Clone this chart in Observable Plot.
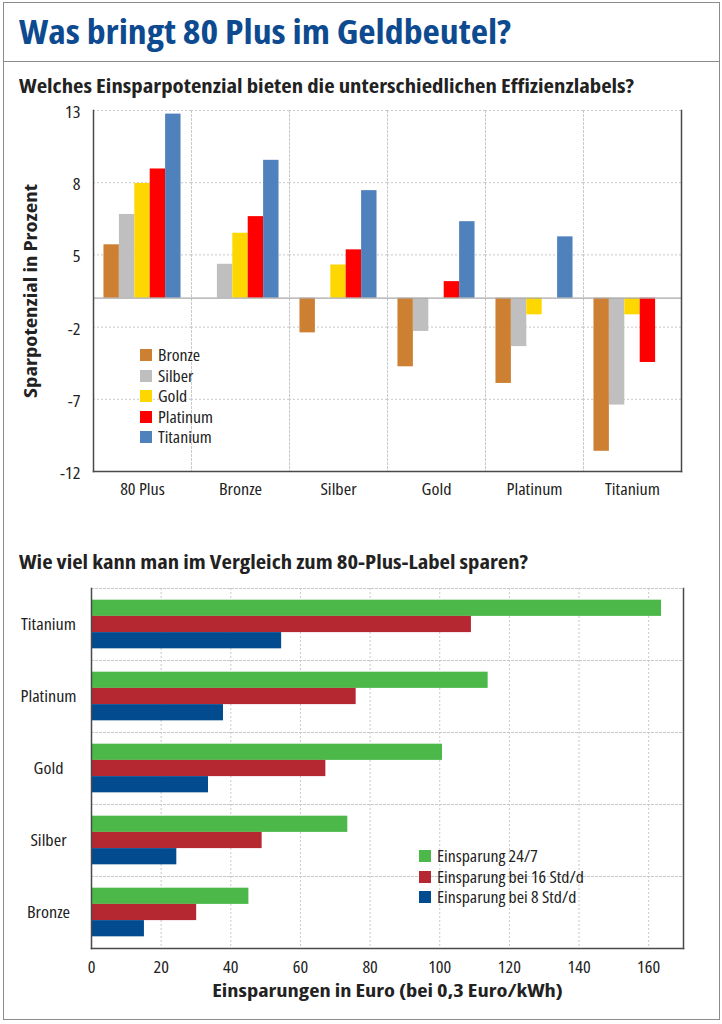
<!DOCTYPE html>
<html>
<head>
<meta charset="utf-8">
<script src="https://cdn.jsdelivr.net/npm/d3@7"></script>
<script src="https://cdn.jsdelivr.net/npm/@observablehq/plot@0.6"></script>
<style>
  body { margin: 0; background: #fff; }
  #page { position: relative; width: 722px; height: 1024px; overflow: hidden;
    font-family: "Open Sans", "Noto Sans", sans-serif; font-stretch: condensed; color: #222; }
  .frame { position: absolute; left: 3px; top: 2px; width: 715px; height: 1016px; border: 1.5px solid #8c8c8c; }
  .sep { position: absolute; left: 3px; top: 61px; width: 717px; height: 0; border-top: 1.5px solid #8c8c8c; }
  .title { position: absolute; left: 19px; top: 14.7px; font-size: 33px; line-height: 1; font-weight: bold; color: #0d4a8f; white-space: nowrap; }
  .sub { position: absolute; left: 19px; font-size: 19.5px; line-height: 1; font-weight: bold; color: #222; white-space: nowrap; }
  .chart { position: absolute; left: 0; }
  .legend { position: absolute; font-size: 16px; color: #222; }
  .legend .row { display: flex; align-items: center; height: 20.5px; white-space: nowrap; }
  .legend .sw { width: 12px; height: 12px; margin-right: 6px; flex: none; }
  .legend span { display: inline-block; }
</style>
</head>
<body>
<div id="page">
  <div class="frame"></div>
  <div class="title" id="title">Was bringt 80 Plus im Geldbeutel?</div>
  <div class="sep"></div>
  <div class="sub" id="sub1" style="top:75.7px">Welches Einsparpotenzial bieten die unterschiedlichen Effizienzlabels?</div>
  <div class="chart" id="chart1" style="top:100px"></div>
  <div class="legend" id="leg1" style="left:140px; top:345px"></div>
  <div class="sub" id="sub2" style="top:551.7px">Wie viel kann man im Vergleich zum 80-Plus-Label sparen?</div>
  <div class="chart" id="chart2" style="top:577px"></div>
  <div class="legend" id="leg2" style="left:419px; top:846px"></div>
</div>
<script>
// ---------- Chart 1 data ----------
const groups = ["80 Plus", "Bronze", "Silber", "Gold", "Platinum", "Titanium"];
const labels = ["Bronze", "Silber", "Gold", "Platinum", "Titanium"];
const labelColors = ["#cd7f32", "#bfbfbf", "#ffd700", "#ff0000", "#4f81bd"];
const sBronze   = [3.7,  null, -2.4, -4.75, -5.9, -10.6];
const sSilber   = [5.8,  2.35, null, -2.3, -3.35, -7.4];
const sGold     = [7.95, 4.5,  2.3,  null, -1.15, -1.15];
const sPlatinum = [8.95, 5.65, 3.35, 1.15, null, -4.45];
const sTitanium = [12.75, 9.55, 7.45, 5.3, 4.25, null];
const yTicks = [13, 8, 3, -2, -7, -12];
const yTickLabels = ["13", "8", "5", "-2", "-7", "-12"];
const yTitle = "Sparpotenzial in Prozent";

// ---------- Chart 2 data ----------
const tiers = ["Titanium", "Platinum", "Gold", "Silber", "Bronze"];
const seriesNames = ["Einsparung 24/7", "Einsparung bei 16 Std/d", "Einsparung bei 8 Std/d"];
const seriesColors = ["#4cb84a", "#b52832", "#024b8e"];
const e247 = [163.7, 113.9, 100.8, 73.6, 45.2];
const e16  = [109.1, 76.0, 67.3, 49.0, 30.2];
const e8   = [54.6, 37.9, 33.6, 24.5, 15.2];
const xTicks = [0, 20, 40, 60, 80, 100, 120, 140, 160];
const xTitle = "Einsparungen in Euro (bei 0,3 Euro/kWh)";

const FONT = '"Open Sans", "Noto Sans", sans-serif';
const GRID = "#c8c8c8";
const AXIS = "#4a4a4a";
const STYLE = {fontFamily: FONT, fontStretch: "condensed", fontSize: "17px", color: "#222", background: "transparent"};

// ---------- Chart 1 ----------
const series1 = [sBronze, sSilber, sGold, sPlatinum, sTitanium];
const rows1 = [];
groups.forEach((g, i) => labels.forEach((l, j) => {
  const v = series1[j][i];
  if (v != null) rows1.push({group: g, label: l, value: v});
}));

const chart1 = Plot.plot({
  width: 722, height: 411,
  marginTop: 10, marginBottom: 40, marginLeft: 91, marginRight: 39,
  style: STYLE,
  fx: {domain: groups, padding: 0, label: null},
  x: {domain: labels, paddingInner: 0, paddingOuter: 0.68, round: false, axis: null},
  y: {domain: [-12, 13], label: null},
  color: {domain: labels, range: labelColors},
  marks: [
    Plot.gridY(yTicks.filter(t => t !== -12), {stroke: GRID, strokeOpacity: 1, strokeDasharray: "2,2"}),
    Plot.frame({anchor: "left", stroke: GRID, strokeOpacity: 1, strokeDasharray: "2,2"}),
    Plot.barY(rows1, {fx: "group", x: "label", y: "value", fill: "label"}),
    Plot.ruleY([0], {stroke: "#a8a8a8", strokeWidth: 1.2}),
    Plot.axisY(yTicks, {tickSize: 0, tickPadding: 13, dy: 2, label: null,
      tickFormat: d => yTickLabels[yTicks.indexOf(d)], fontSize: 17}),
    Plot.axisFx({anchor: "bottom", tickSize: 0, tickPadding: 11, label: null, fontSize: 17}),
    Plot.text([yTitle], {facet: "super", frameAnchor: "left", textAnchor: "middle", rotate: -90, dx: -62,
      fontWeight: "bold", fontSize: 18, fill: "#222"}),
    Plot.frame({facet: "super", anchor: "left", stroke: AXIS, strokeWidth: 1.5}),
    Plot.frame({facet: "super", anchor: "right", stroke: AXIS, strokeWidth: 1.5}),
    Plot.frame({facet: "super", anchor: "bottom", stroke: AXIS, strokeWidth: 1.5})
  ]
});
document.getElementById("chart1").appendChild(chart1);

// ---------- Chart 2 ----------
const series2 = [e247, e16, e8];
const rows2 = [];
tiers.forEach((t, i) => seriesNames.forEach((s, j) => {
  rows2.push({tier: t, series: s, value: series2[j][i]});
}));

const chart2 = Plot.plot({
  width: 722, height: 430,
  marginTop: 10, marginBottom: 58, marginLeft: 91, marginRight: 39,
  style: STYLE,
  fy: {domain: tiers, padding: 0, label: null},
  y: {domain: seriesNames, paddingInner: 0, paddingOuter: 0.72, round: false, axis: null},
  x: {domain: [0, 170], label: null},
  color: {domain: seriesNames, range: seriesColors},
  marks: [
    Plot.gridX(xTicks.filter(t => t > 0), {stroke: GRID, strokeOpacity: 1, strokeDasharray: "2,2"}),
    Plot.frame({anchor: "top", stroke: GRID, strokeOpacity: 1, strokeDasharray: "2,2"}),
    Plot.barX(rows2, {fy: "tier", y: "series", x: "value", fill: "series"}),
    Plot.axisX(xTicks, {anchor: "bottom", tickSize: 0, tickPadding: 12, label: null, fontSize: 17}),
    Plot.axisFy({anchor: "left", tickSize: 0, tickPadding: 43, textAnchor: "middle", label: null, fontSize: 17}),
    Plot.text([xTitle], {facet: "super", frameAnchor: "bottom", dy: 48,
      fontWeight: "bold", fontSize: 17, fill: "#222"}),
    Plot.frame({facet: "super", anchor: "left", stroke: AXIS, strokeWidth: 1.5}),
    Plot.frame({facet: "super", anchor: "right", stroke: AXIS, strokeWidth: 1.5}),
    Plot.frame({facet: "super", anchor: "bottom", stroke: AXIS, strokeWidth: 1.5})
  ]
});
document.getElementById("chart2").appendChild(chart2);

// ---------- Legends ----------
function legend(el, names, colors) {
  names.forEach((n, i) => {
    const row = document.createElement("div");
    row.className = "row";
    const sw = document.createElement("div");
    sw.className = "sw";
    sw.style.background = colors[i];
    const tx = document.createElement("span");
    tx.textContent = n;
    row.appendChild(sw); row.appendChild(tx);
    el.appendChild(row);
  });
}
legend(document.getElementById("leg1"), labels, labelColors);
legend(document.getElementById("leg2"), seriesNames, seriesColors);

// ---------- Condensed lettering (match the narrow original typeface) ----------
function squeezeHTML(el, f) {
  el.style.transformOrigin = "left center";
  el.style.transform = `scaleX(${f})`;
}
function widthOf(el) { return el.getBoundingClientRect().width; }

const refSpan = document.querySelectorAll("#leg2 span")[1];
const fLeg = 147 / widthOf(refSpan);
document.querySelectorAll(".legend span").forEach(s => squeezeHTML(s, fLeg));
squeezeHTML(document.getElementById("title"), 492 / widthOf(document.getElementById("title")));
squeezeHTML(document.getElementById("sub1"), 615 / widthOf(document.getElementById("sub1")));
squeezeHTML(document.getElementById("sub2"), 509 / widthOf(document.getElementById("sub2")));

const refAxisText = Array.from(chart2.querySelectorAll("text")).find(t => t.textContent === "Titanium");
const fAxis = 55 / refAxisText.getComputedTextLength();

function squeezeSVG(svg, f, special) {
  svg.querySelectorAll("text").forEach(t => {
    let s = f;
    const txt = t.textContent;
    if (special[txt]) s = special[txt] / t.getComputedTextLength();
    const x = +t.getAttribute("x") || 0, y = +t.getAttribute("y") || 0;
    const tr = t.getAttribute("transform") || "";
    t.setAttribute("transform", `${tr} translate(${x},${y}) scale(${s},1) translate(${-x},${-y})`);
  });
}
squeezeSVG(chart1, fAxis, {[yTitle]: 214});
squeezeSVG(chart2, fAxis, {[xTitle]: 351});
</script>
</body>
</html>
